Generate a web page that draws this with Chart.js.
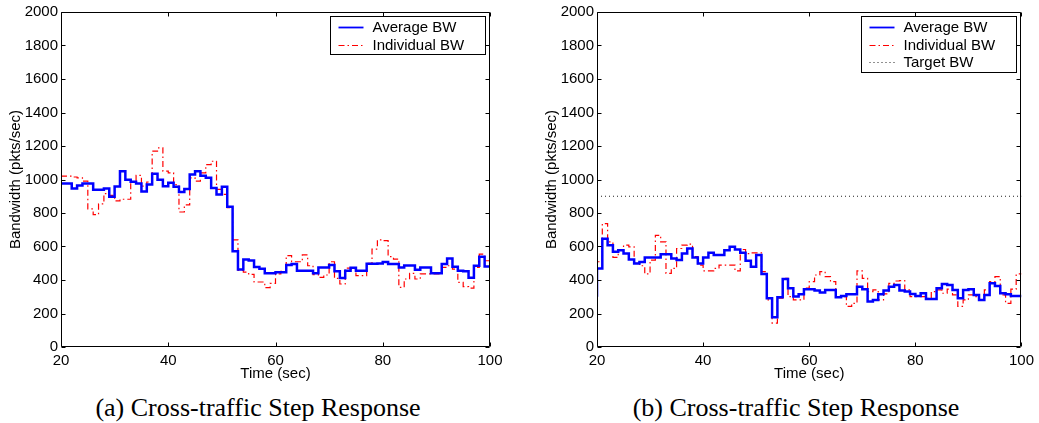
<!DOCTYPE html>
<html>
<head>
<meta charset="utf-8">
<script src="https://cdn.jsdelivr.net/npm/chart.js@4.4.1/dist/chart.umd.min.js"></script>
<style>
  body { margin: 0; background: #fff; width: 1039px; height: 423px; overflow: hidden; position: relative; }
  canvas { position: absolute; top: 0; }
  .cap { position: absolute; top: 393px; font-family: "Liberation Serif", "Times New Roman", serif; font-size: 26px; line-height: 30px; color: #000; white-space: nowrap; transform: translateX(-50%); }
</style>
</head>
<body>
<canvas id="chartA" width="510" height="390" style="left:0"></canvas>
<canvas id="chartB" width="503" height="390" style="left:536px"></canvas>
<div class="cap" style="left:258px">(a) Cross-traffic Step Response</div>
<div class="cap" style="left:796px">(b) Cross-traffic Step Response</div>
<script>
// time in seconds, one step per second (last entry closes the final step)
const times = [20, 21, 22, 23, 24, 25, 26, 27, 28, 29, 30, 31, 32, 33, 34, 35, 36, 37, 38, 39,
  40, 41, 42, 43, 44, 45, 46, 47, 48, 49, 50, 51, 52, 53, 54, 55, 56, 57, 58, 59,
  60, 61, 62, 63, 64, 65, 66, 67, 68, 69, 70, 71, 72, 73, 74, 75, 76, 77, 78, 79,
  80, 81, 82, 83, 84, 85, 86, 87, 88, 89, 90, 91, 92, 93, 94, 95, 96, 97, 98, 99, 100];

// (a) bandwidth, pkts/sec
const avgA = [976, 976, 947, 964, 976, 976, 939, 939, 947, 897, 958, 1050, 998, 986, 976, 929, 970, 1034, 998, 960,
  980, 956, 925, 943, 1030, 1050, 1022, 1010, 950, 911, 956, 838, 572, 463, 522, 516, 477, 467, 441, 441,
  446, 446, 489, 495, 455, 455, 455, 440, 475, 475, 489, 452, 412, 455, 473, 455, 455, 497, 497, 499,
  507, 495, 495, 475, 487, 487, 461, 475, 475, 440, 440, 495, 529, 479, 455, 452, 414, 485, 539, 481, 481];
const indA = [1020, 1020, 1015, 1010, 990, 825, 790, 854, 916, 905, 872, 882, 882, 985, 1025, 961, 985, 1169, 1189, 1050,
  1040, 970, 806, 848, 1010, 990, 1040, 1089, 1109, 941, 911, 832, 640, 457, 447, 433, 388, 388, 354, 380,
  436, 452, 545, 509, 509, 550, 485, 432, 416, 430, 509, 410, 376, 471, 465, 426, 426, 499, 584, 640,
  635, 539, 525, 356, 406, 440, 406, 436, 436, 436, 436, 475, 485, 465, 386, 360, 352, 475, 554, 515, 515];

// (b) bandwidth, pkts/sec
const startB = 300;
const avgB = [469, 646, 608, 568, 578, 558, 523, 499, 507, 535, 535, 535, 554, 554, 529, 519, 558, 588, 535, 499,
  535, 562, 549, 549, 578, 598, 582, 562, 515, 479, 549, 436, 291, 178, 297, 406, 351, 301, 315, 345,
  345, 337, 325, 341, 341, 297, 305, 315, 315, 360, 345, 271, 281, 315, 337, 360, 370, 337, 331, 317,
  305, 321, 287, 287, 351, 376, 370, 341, 291, 341, 345, 311, 281, 311, 380, 364, 321, 315, 305, 305, 305];
const indB = [509, 737, 628, 535, 578, 608, 598, 499, 485, 436, 519, 667, 628, 440, 469, 588, 608, 614, 539, 489,
  455, 455, 469, 489, 489, 489, 455, 582, 558, 562, 562, 450, 281, 143, 291, 410, 301, 281, 281, 351,
  390, 430, 450, 420, 390, 297, 301, 242, 261, 455, 410, 331, 341, 281, 317, 380, 394, 396, 341, 301,
  301, 301, 291, 331, 341, 321, 345, 311, 242, 281, 311, 301, 281, 341, 390, 420, 311, 261, 345, 436, 436];
const targetB = 900;

const yTicks = [0, 200, 400, 600, 800, 1000, 1200, 1400, 1600, 1800, 2000];
const xTicks = [20, 40, 60, 80, 100];

Chart.defaults.font.family = '"Liberation Sans", Arial, Helvetica, sans-serif';
Chart.defaults.font.size = 15;
Chart.defaults.color = '#000';

const toPoints = (vals) => vals.map((v, i) => ({ x: times[i], y: v }));

// matlab style box with inward ticks on all four sides
const frame = {
  id: 'frame',
  afterDatasetsDraw(chart) {
    const { ctx, chartArea: a, scales } = chart;
    const L = Math.round(a.left) + 0.5, R = Math.round(a.right) - 0.5;
    const T = Math.round(a.top) + 0.5, B = Math.round(a.bottom) - 0.5;
    ctx.save();
    ctx.strokeStyle = '#000';
    ctx.lineWidth = 1;
    ctx.beginPath();
    ctx.rect(L, T, R - L, B - T);
    scales.x.ticks.forEach(t => {
      const px = Math.round(scales.x.getPixelForValue(t.value)) + 0.5;
      ctx.moveTo(px, B); ctx.lineTo(px, B - 4);
      ctx.moveTo(px, T); ctx.lineTo(px, T + 4);
    });
    scales.y.ticks.forEach(t => {
      const py = Math.round(scales.y.getPixelForValue(t.value)) + 0.5;
      ctx.moveTo(L, py); ctx.lineTo(L + 4, py);
      ctx.moveTo(R, py); ctx.lineTo(R - 4, py);
    });
    ctx.stroke();
    ctx.restore();
  }
};

const boxLegend = {
  id: 'boxLegend',
  afterDraw(chart) {
    const { ctx, chartArea: a } = chart;
    const sets = chart.data.datasets;
    const w = 155, rowH = 17.5;
    const h = Math.round(sets.length * rowH + 3);
    const x0 = Math.round(a.right) - 5 - w + 0.5, y0 = Math.round(a.top) + 4 + 0.5;
    ctx.save();
    ctx.fillStyle = '#fff';
    ctx.fillRect(x0, y0, w, h);
    ctx.strokeStyle = '#000';
    ctx.lineWidth = 1;
    ctx.setLineDash([]);
    ctx.strokeRect(x0, y0, w, h);
    ctx.textBaseline = 'middle';
    ctx.font = '15px "Liberation Sans", Arial, sans-serif';
    sets.forEach((ds, i) => {
      const opts = chart.getDatasetMeta(i).dataset.options;
      const cy = Math.round(y0 + 2 + rowH * i + rowH / 2);
      ctx.beginPath();
      ctx.strokeStyle = opts.borderColor;
      ctx.lineWidth = Math.min(opts.borderWidth, 1.8);
      ctx.setLineDash(opts.borderDash || []);
      ctx.moveTo(x0 + 8, cy + 0.5);
      ctx.lineTo(x0 + 33, cy + 0.5);
      ctx.stroke();
      ctx.fillStyle = '#000';
      ctx.fillText(ds.label, x0 + 42, cy + 1);
    });
    ctx.restore();
  }
};

function makeChart(id, datasets) {
  return new Chart(document.getElementById(id), {
    type: 'line',
    data: { datasets },
    options: {
      responsive: false,
      animation: false,
      devicePixelRatio: 1,
      layout: { padding: { top: 9, right: id === 'chartA' ? 20 : 15, left: 0, bottom: 0 } },
      elements: { point: { radius: 0 } },
      plugins: { legend: { display: false }, tooltip: { enabled: false } },
      scales: {
        x: {
          type: 'linear',
          min: 20,
          max: 100,
          afterFit: (s) => { s.height = 43; },
          afterBuildTicks: (s) => { s.ticks = xTicks.map(v => ({ value: v })); },
          grid: { display: false, drawTicks: false },
          border: { display: false },
          ticks: { padding: 5, maxRotation: 0, callback: (v) => String(v) },
          title: { display: true, text: 'Time (sec)', padding: { top: 0, bottom: 7 } }
        },
        y: {
          min: 0,
          max: 2000,
          afterFit: (s) => { s.width = 61; },
          afterBuildTicks: (s) => { s.ticks = yTicks.map(v => ({ value: v })); },
          grid: { display: false, drawTicks: false },
          border: { display: false },
          ticks: { padding: 3, callback: (v) => String(v) },
          title: { display: true, text: 'Bandwidth (pkts/sec)', padding: { top: 7, bottom: 0 } }
        }
      }
    },
    plugins: [frame, boxLegend]
  });
}

const avgStyle = { label: 'Average BW', borderColor: '#0000ff', borderWidth: 2.5, stepped: 'before', fill: false };
const indStyle = { label: 'Individual BW', borderColor: '#ff0000', borderWidth: 1.2, borderDash: [6, 3, 1.5, 3], stepped: 'before', fill: false };

makeChart('chartA', [
  { ...avgStyle, data: toPoints(avgA) },
  { ...indStyle, data: toPoints(indA) }
]);

makeChart('chartB', [
  { ...avgStyle, data: [{ x: 20, y: startB }, ...toPoints(avgB)] },
  { ...indStyle, data: [{ x: 20, y: startB }, ...toPoints(indB)] },
  {
    label: 'Target BW', borderColor: '#222', borderWidth: 1, borderDash: [1, 3], fill: false,
    data: [{ x: 20, y: targetB }, { x: 100, y: targetB }]
  }
]);
</script>
</body>
</html>
